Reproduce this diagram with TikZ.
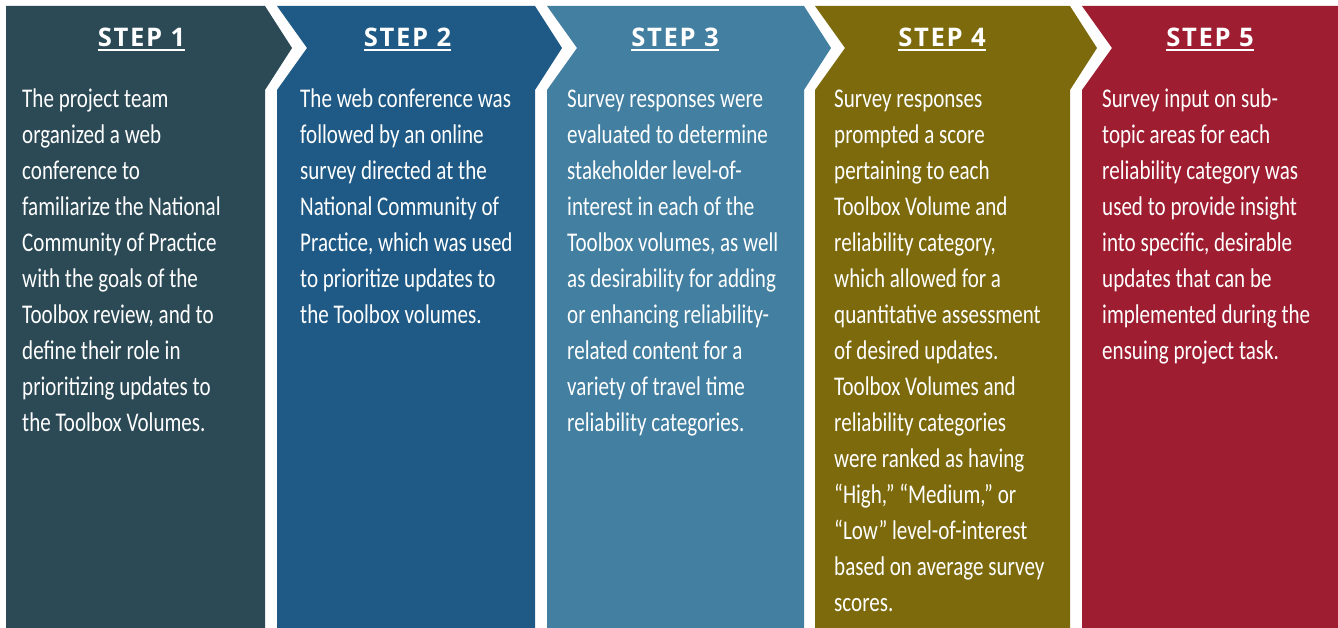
\documentclass[tikz,border=0pt]{standalone}
\usepackage{fontspec}
\newfontfamily\bodyfont[FakeStretch=0.78]{Carlito}
\newfontfamily\headfont[LetterSpace=6.5]{Open Sans}

\definecolor{stepA}{RGB}{43,74,86}
\definecolor{stepB}{RGB}{30,90,133}
\definecolor{stepC}{RGB}{66,127,160}
\definecolor{stepD}{RGB}{124,106,12}
\definecolor{stepE}{RGB}{158,29,48}

% lines of a step description, top-aligned so the base is the first line
\newcommand{\steplines}[1]{\begin{tabular}[t]{@{}l@{}}#1\end{tabular}}

\begin{document}
\begin{tikzpicture}[x=1pt,y=-1pt,
  panel/.style={fill=#1,draw=none},
  steptitle/.style={font=\headfont\bfseries\fontsize{25.6}{30}\selectfont,
    text=white,inner sep=0pt,anchor=base},
  titleline/.style={draw=white,line width=1.4pt},
  stepbody/.style={font=\bodyfont\fontsize{27}{36}\selectfont,
    text=white,inner sep=0pt,anchor=base west}]

\useasboundingbox (0,0) rectangle (1338,628);

% chevron panels
\fill[panel=stepA] (6,6) -- (265,6) -- (292,48) -- (265,90) -- (265,628)
  -- (6,628) -- cycle;
\fill[panel=stepB] (277,6) -- (535,6) -- (562,48) -- (535,90) -- (535,628)
  -- (277,628) -- (277,90) -- (307,48) -- cycle;
\fill[panel=stepC] (547,6) -- (804,6) -- (831,48) -- (804,90) -- (804,628)
  -- (547,628) -- (547,90) -- (577,48) -- cycle;
\fill[panel=stepD] (815,6) -- (1070,6) -- (1097,48) -- (1070,90) -- (1070,628)
  -- (815,628) -- (815,90) -- (845,48) -- cycle;
\fill[panel=stepE] (1082,6) -- (1338,6) -- (1338,628)
  -- (1082,628) -- (1082,90) -- (1112,48) -- cycle;

% headings
\node[steptitle] (t1) at (141.5,46.7) {STEP 1};
\node[steptitle] (t2) at (407.5,46.7) {STEP 2};
\node[steptitle] (t3) at (675,46.7) {STEP 3};
\node[steptitle] (t4) at (942,46.7) {STEP 4};
\node[steptitle] (t5) at (1210,46.7) {STEP 5};
\foreach \t in {t1,t2,t3,t4,t5}
  \draw[titleline] ([yshift=-3.3pt]\t.base west) -- ([yshift=-3.3pt]\t.base east);

% step descriptions
\node[stepbody] (b1) at (22,107.3) {\steplines{The project team\\organized a web\\conference to\\familiarize the National\\Community of Practice\\with the goals of the\\Toolbox review, and to\\define their role in\\prioritizing updates to\\the Toolbox Volumes.}};
\node[stepbody] (b2) at (300,107.3) {\steplines{The web conference was\\followed by an online\\survey directed at the\\National Community of\\Practice, which was used\\to prioritize updates to\\the Toolbox volumes.}};
\node[stepbody] (b3) at (567,107.3) {\steplines{Survey responses were\\evaluated to determine\\stakeholder level-of-\\interest in each of the\\Toolbox volumes, as well\\as desirability for adding\\or enhancing reliability-\\related content for a\\variety of travel time\\reliability categories.}};
\node[stepbody] (b4) at (834,107.3) {\steplines{Survey responses\\prompted a score\\pertaining to each\\Toolbox Volume and\\reliability category,\\which allowed for a\\quantitative assessment\\of desired updates.\\Toolbox Volumes and\\reliability categories\\were ranked as having\\“High,” “Medium,” or\\“Low” level-of-interest\\based on average survey\\scores.}};
\node[stepbody] (b5) at (1102,107.3) {\steplines{Survey input on sub-\\topic areas for each\\reliability category was\\used to provide insight\\into specific, desirable\\updates that can be\\implemented during the\\ensuing project task.}};
\end{tikzpicture}
\end{document}
